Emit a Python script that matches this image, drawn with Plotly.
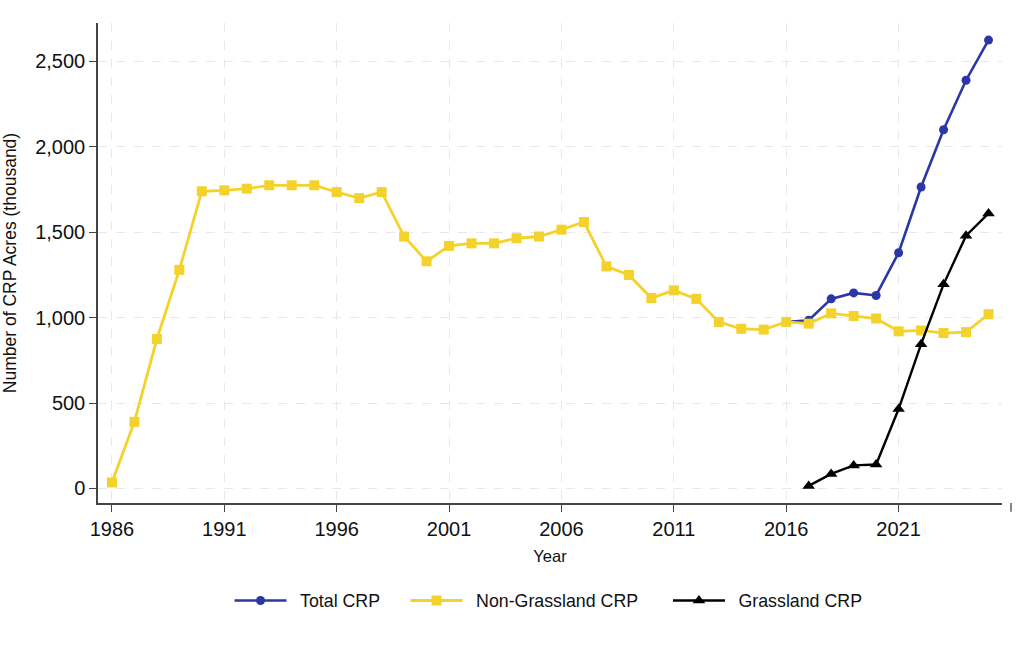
import plotly.graph_objects as go

years = list(range(1986, 2026))
non_grassland = [35, 390, 875, 1280, 1740, 1745, 1755, 1775, 1775, 1775,
                 1735, 1700, 1735, 1475, 1330, 1420, 1435, 1435, 1465, 1475,
                 1515, 1560, 1300, 1250, 1115, 1160, 1110, 975, 935, 930,
                 975, 965, 1025, 1010, 995, 920, 925, 910, 915, 1020]
total_years = list(range(2016, 2026))
total = [975, 985, 1110, 1145, 1130, 1380, 1765, 2100, 2390, 2625]
grass_years = list(range(2017, 2026))
grassland = [15, 85, 135, 140, 465, 845, 1195, 1480, 1610]

FONT = "Liberation Sans, Arial, Helvetica, sans-serif"
BLUE = "#2b37a6"
YELLOW = "#f4d22c"
BLACK = "#000000"
GAP = "\u00a0\u2009"

fig = go.Figure()
fig.add_trace(go.Scatter(x=total_years, y=total, name=GAP + "Total CRP", mode="lines+markers",
                         line=dict(color=BLUE, width=2.6), legend="legend",
                         marker=dict(symbol="circle", size=9, color=BLUE)))
fig.add_trace(go.Scatter(x=years, y=non_grassland, name=GAP + "Non-Grassland CRP", mode="lines+markers",
                         line=dict(color=YELLOW, width=2.8), legend="legend2",
                         marker=dict(symbol="square", size=10, color=YELLOW)))
fig.add_trace(go.Scatter(x=grass_years, y=grassland, name=GAP + "Grassland CRP", mode="lines+markers",
                         line=dict(color=BLACK, width=2.4), legend="legend3",
                         marker=dict(symbol="triangle-up", size=11, color=BLACK)))

def leg(x):
    return dict(orientation="h", x=x, xanchor="left", y=-0.204, yanchor="middle",
                font=dict(size=17.8, family=FONT), itemwidth=52, bgcolor="rgba(0,0,0,0)")

xr = [1985.38, 2025.6]
fig.update_layout(
    width=1024, height=652,
    margin=dict(l=98, r=22, t=23, b=149),
    paper_bgcolor="white", plot_bgcolor="white",
    font=dict(family=FONT, color="#111111"),
    showlegend=True,
    legend=leg(0.1455), legend2=leg(0.3402), legend3=leg(0.6305),
    xaxis=dict(range=xr, tick0=1986, dtick=5, tickmode="linear", automargin=False,
               showline=True, linecolor="#444444", linewidth=1.5,
               ticks="outside", ticklen=7, tickcolor="#444444", tickwidth=1.3,
               tickfont=dict(size=20, family=FONT),
               showgrid=True, gridcolor="#e8e6ef", griddash="dash", gridwidth=1,
               zeroline=False,
               title=dict(text="Year", font=dict(size=16.5, family=FONT), standoff=12)),
    yaxis=dict(range=[-85, 2725], tick0=0, dtick=500, tickmode="linear", tickformat=",",
               automargin=False,
               showline=True, linecolor="#444444", linewidth=1.5,
               ticks="outside", ticklen=7, tickcolor="#444444", tickwidth=1.3,
               tickfont=dict(size=20, family=FONT),
               showgrid=True, gridcolor="#e8e6ef", griddash="dash", gridwidth=1,
               zeroline=False,
               title=dict(text="Number of CRP Acres (thousand)", font=dict(size=17.5, family=FONT), standoff=18)),
)

# stray tick beyond the axis end (2026)
px = (2026 - xr[0]) / (xr[1] - xr[0])
fig.add_shape(type="line", xref="paper", yref="paper", x0=px, x1=px, y0=0, y1=-0.018,
              line=dict(color="#444444", width=1.3))

fig.write_html("out.html")
